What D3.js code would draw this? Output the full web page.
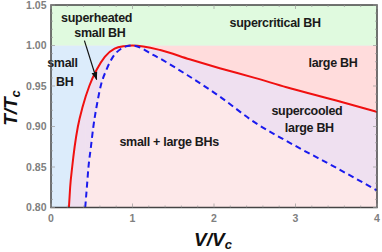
<!DOCTYPE html>
<html><head><meta charset="utf-8">
<script src="https://cdn.jsdelivr.net/npm/d3@7"></script>
<style>body{margin:0;background:#fff}svg{display:block}text{font-family:"Liberation Sans",Arial,sans-serif}</style>
</head><body><svg id="c" width="382" height="252"></svg>
<script>
// coexistence curve (red, solid): [V/Vc, T/Tc]
const coexV = [0.22,0.235,0.26,0.29,0.33,0.39,0.47,0.56,0.66,0.78,0.9,1.0,1.34,1.7,2.07,2.5,2.89,3.5,4.0];
const coexT = [0.80,0.825,0.85,0.875,0.90,0.925,0.95,0.97,0.986,0.996,0.9992,1.0,0.9944,0.983,0.972,0.96,0.9484,0.932,0.918];
// spinodal curve (blue, dashed)
const spinV = [0.42,0.44,0.46,0.49,0.52,0.56,0.61,0.68,0.76,0.86,0.94,1.0,1.26,1.67,2.07,2.5,3.0,3.5,4.0];
const spinT = [0.80,0.825,0.85,0.875,0.90,0.925,0.95,0.97,0.986,0.996,0.9993,1.0,0.988,0.9636,0.937,0.905,0.876,0.849,0.821];
const xTicks = [0,1,2,3,4];
const yTicks = [0.80,0.85,0.90,0.95,1.00,1.05];
const labels = [
  {t:"superheated", v:0.56, T:1.0327},
  {t:"small BH", v:0.60, T:1.0142},
  {t:"small", v:0.14, T:0.977},
  {t:"BH", v:0.17, T:0.954},
  {t:"supercritical BH", v:2.75, T:1.027},
  {t:"large BH", v:3.46, T:0.977},
  {t:"supercooled", v:3.14, T:0.918},
  {t:"large BH", v:3.17, T:0.897},
  {t:"small + large BHs", v:1.45, T:0.880}
];

const svg = d3.select("#c");
const L=51, R=377, Tp=5, B=207.5;
const x = d3.scaleLinear().domain([0,4]).range([L,R]);
const y = d3.scaleLinear().domain([0.8,1.05]).range([B,Tp]);
const coex = coexV.map((v,i)=>[v,coexT[i]]);
const spin = spinV.map((v,i)=>[v,spinT[i]]);

svg.append("clipPath").attr("id","pc").append("rect").attr("x",L).attr("y",Tp).attr("width",R-L).attr("height",B-Tp);
const g = svg.append("g").attr("clip-path","url(#pc)");

g.append("rect").attr("x",L).attr("y",y(1)).attr("width",R-L).attr("height",B-y(1)).attr("fill","#fde8e9");
const areaAbove = d3.area().x(d=>x(d[0])).y0(y(1)).y1(d=>y(d[1])).curve(d3.curveMonotoneX);
g.append("rect").attr("x",L).attr("y",y(1)).attr("width",x(spinV[0])-L+0.5).attr("height",B-y(1)).attr("fill","#efe0f0");
g.append("path").attr("d",areaAbove(spin)).attr("fill","#efe0f0");
g.append("rect").attr("x",L).attr("y",y(1)).attr("width",x(coexV[0])-L+0.5).attr("height",B-y(1)).attr("fill","#dcecfb");
g.append("path").attr("d",areaAbove(coex)).attr("fill","#dcecfb");
svg.append("clipPath").attr("id","rc").append("rect").attr("x",x(1)).attr("y",0).attr("width",R-x(1)).attr("height",B);
g.append("path").attr("d",areaAbove(coex)).attr("fill","#ffdcdc").attr("clip-path","url(#rc)");
g.append("rect").attr("x",L).attr("y",Tp).attr("width",R-L).attr("height",y(1)-Tp).attr("fill","#e0fadf");

const line = d3.line().x(d=>x(d[0])).y(d=>y(d[1])).curve(d3.curveMonotoneX);
g.append("path").attr("d",line(coex)).attr("fill","none").attr("stroke","#f01010").attr("stroke-width",2);
g.append("path").attr("d",line(spin)).attr("fill","none").attr("stroke","#1a1aee").attr("stroke-width",2).attr("stroke-dasharray","6,4");

labels.forEach(l=>{
  svg.append("text").attr("x",x(l.v)).attr("y",y(l.T)).attr("text-anchor","middle").attr("dominant-baseline","middle")
    .attr("font-size",12.5).attr("font-weight","bold").attr("fill","#1a1a1a").attr("letter-spacing",-0.3).text(l.t);
});
svg.append("defs").append("marker").attr("id","ah").attr("viewBox","0 0 10 10").attr("refX",9).attr("refY",5)
  .attr("markerWidth",7).attr("markerHeight",7).attr("orient","auto")
  .append("path").attr("d","M0,1.5L10,5L0,8.5Z").attr("fill","#111");
svg.append("line").attr("x1",x(0.41)).attr("y1",y(1.006)).attr("x2",x(0.56)).attr("y2",y(0.958))
  .attr("stroke","#111").attr("stroke-width",1.2).attr("marker-end","url(#ah)");

const fr = svg.append("g");
fr.append("rect").attr("x",L).attr("y",Tp).attr("width",R-L).attr("height",B-Tp).attr("fill","none").attr("stroke","#444").attr("stroke-width",1.5);
const xMinor = d3.range(0,4.01,0.2), yMinor = d3.range(0.8,1.051,0.01);
xMinor.forEach(v=>{const big=Math.abs(v-Math.round(v))<1e-6; const len=big?4:2;
  fr.append("line").attr("x1",x(v)).attr("x2",x(v)).attr("y1",B).attr("y2",B-len).attr("stroke","#999").attr("stroke-width",0.7);
  fr.append("line").attr("x1",x(v)).attr("x2",x(v)).attr("y1",Tp).attr("y2",Tp+len).attr("stroke","#999").attr("stroke-width",0.7);});
yMinor.forEach(v=>{const big=Math.abs(v*20-Math.round(v*20))<1e-6; const len=big?4:2;
  fr.append("line").attr("y1",y(v)).attr("y2",y(v)).attr("x1",L).attr("x2",L+len).attr("stroke","#999").attr("stroke-width",0.7);
  fr.append("line").attr("y1",y(v)).attr("y2",y(v)).attr("x1",R).attr("x2",R-len).attr("stroke","#999").attr("stroke-width",0.7);});
xTicks.forEach(v=>svg.append("text").attr("x",x(v)).attr("y",222).attr("text-anchor","middle").attr("font-size",10.5).attr("font-weight","bold").attr("fill","#808080").text(v));
yTicks.forEach(v=>svg.append("text").attr("x",46.5).attr("y",y(v)+3.8).attr("text-anchor","end").attr("font-size",10.5).attr("font-weight","bold").attr("fill","#808080").text(v.toFixed(2)));

const xt = svg.append("text").attr("x",213).attr("y",246).attr("text-anchor","middle").attr("font-size",19).attr("font-weight","bold").attr("font-style","italic").attr("fill","#111");
xt.append("tspan").text("V/V");
xt.append("tspan").attr("font-size",13).attr("dy",3).text("c");
const yt = svg.append("text").attr("transform","translate(17,108) rotate(-90)").attr("text-anchor","middle").attr("font-size",19).attr("font-weight","bold").attr("font-style","italic").attr("fill","#111");
yt.append("tspan").text("T/T");
yt.append("tspan").attr("font-size",13).attr("dy",3).text("c");
</script></body></html>
